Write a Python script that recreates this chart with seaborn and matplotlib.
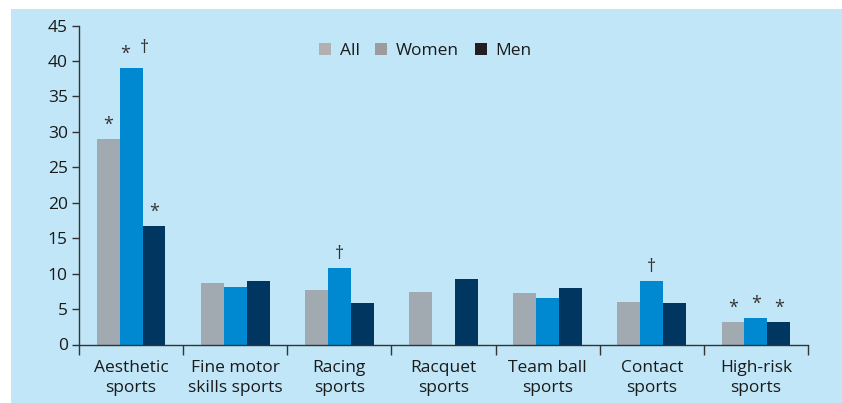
import numpy as np
import pandas as pd
import matplotlib
matplotlib.use("Agg")
import matplotlib.pyplot as plt
from matplotlib.patches import Patch, Rectangle
from matplotlib.ticker import MultipleLocator
import seaborn as sns

# dados
categorias = ["Aesthetic\nsports", "Fine motor\nskills sports", "Racing\nsports", "Racquet\nsports",
              "Team ball\nsports", "Contact\nsports", "High-risk\nsports"]
series = ["All", "Women", "Men"]
valores_all = [29.0, 8.7, 7.7, 7.4, 7.3, 6.0, 3.2]
valores_women = [39.0, 8.1, 10.8, np.nan, 6.6, 9.0, 3.7]
valores_men = [16.7, 9.0, 5.9, 9.3, 8.0, 5.9, 3.2]

# marcas de significância: (categoria, série, texto)
marcas = [(0, "All", "*"), (0, "Women", "*"), (0, "Men", "*"),
          (2, "Women", "†"), (5, "Women", "†"),
          (6, "All", "*"), (6, "Women", "*"), (6, "Men", "*")]
dagger_aesthetic_women = "†"

cores_barras = ["#a1a9b1", "#0089d0", "#00365f"]
cores_legenda = ["#b1b1b1", "#9c9c9c", "#231f20"]
fundo = "#c1e6f8"

df = pd.DataFrame({
    "categoria": categorias * 3,
    "serie": np.repeat(series, len(categorias)),
    "valor": valores_all + valores_women + valores_men,
})

plt.rcParams["font.family"] = ["Open Sans", "DejaVu Sans"]
fig = plt.figure(figsize=(8.42, 4.03), dpi=100)
fig.patches.append(Rectangle((11 / 842, 0), 1, 1 - 9 / 403, transform=fig.transFigure,
                             facecolor=fundo, edgecolor="none", zorder=-10))
ax = fig.add_axes([79 / 842, 1 - 344.5 / 403, (808 - 79) / 842, (344.5 - 25.5) / 403])
ax.set_facecolor("none")

sns.barplot(data=df, x="categoria", y="valor", hue="serie", order=categorias,
            hue_order=series, palette=cores_barras, width=0.66, saturation=1,
            legend=False, ax=ax)

ax.set_ylim(0, 45)
ax.set_xlim(-0.5, len(categorias) - 0.5)
ax.yaxis.set_major_locator(MultipleLocator(5))
ax.set_xlabel("")
ax.set_ylabel("")
for s in ["top", "right"]:
    ax.spines[s].set_visible(False)
for s in ["left", "bottom"]:
    ax.spines[s].set_color("#333333")
    ax.spines[s].set_linewidth(1.0)

ax.tick_params(axis="y", length=5, width=1, color="#333333", labelsize=12.5, labelcolor="#1a1a1a", pad=3)
ax.tick_params(axis="x", which="major", length=0, labelsize=12.5, labelcolor="#1a1a1a", pad=11)
ax.set_xticks(np.arange(-0.5, len(categorias)), minor=True)
ax.tick_params(axis="x", which="minor", length=7, width=1, color="#333333")
for lab in ax.get_xticklabels():
    lab.set_linespacing(1.35)

# anotações acima das barras (barra localizada pela posição x)
for idx, nome in enumerate(series):
    barras = {int(round(b.get_x() + b.get_width() / 2)): b for b in ax.containers[idx]}
    for cat, serie, texto in marcas:
        if serie != nome or cat not in barras:
            continue
        b = barras[cat]
        xc = b.get_x() + b.get_width() / 2
        h = b.get_height()
        dx = -0.06 if (cat == 0 and serie == "Women") else 0
        ax.text(xc + dx, h + 0.7, texto, ha="center", va="bottom", fontsize=13, color="#333333")
        if cat == 0 and serie == "Women":
            ax.text(xc + 0.13, h + 1.5, dagger_aesthetic_women, ha="center", va="bottom",
                    fontsize=13, color="#333333")

handles = [Patch(facecolor=c, edgecolor="none", label=s) for c, s in zip(cores_legenda, series)]
ax.legend(handles=handles, loc="upper center", bbox_to_anchor=(0.475, 0.995), ncol=3, frameon=False,
          fontsize=12.5, handlelength=0.7, handleheight=0.7, handletextpad=0.5, columnspacing=0.9,
          labelcolor="#1a1a1a")

fig.savefig("out.png", dpi=100)
